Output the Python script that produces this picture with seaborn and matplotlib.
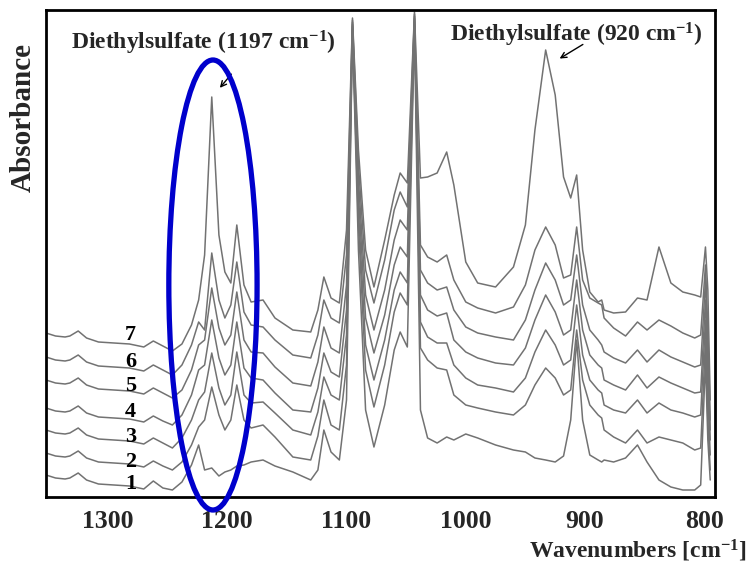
import numpy as np
import pandas as pd
import matplotlib
matplotlib.use("Agg")
import matplotlib.pyplot as plt
from matplotlib.patches import Ellipse
import seaborn as sns

# ---------------- data ----------------
wavenumber = [1352, 1344, 1336, 1332, 1325, 1318, 1308, 1295, 1282, 1270, 1262, 1254,
              1246, 1238, 1230, 1224, 1219, 1213, 1207, 1202, 1197, 1192, 1186, 1180,
              1170, 1160, 1145, 1130, 1124, 1119, 1113, 1106, 1100,
              1095, 1090, 1084, 1077, 1068, 1060, 1055, 1049, 1043,
              1038, 1032, 1024, 1016, 1010, 1000, 990, 975, 960,
              950, 942, 933, 925, 918, 912, 907, 902, 896, 889, 886,
              884, 876, 866, 856, 848, 838, 828, 818, 808, 803, 799, 797, 795]

spec_7 = [1.67, 1.64, 1.63, 1.64, 1.69, 1.62, 1.58, 1.57, 1.56, 1.53, 1.59, 1.54,
          1.49, 1.56, 1.75, 2.00, 2.45, 4.03, 2.65, 2.28, 2.17, 2.75, 2.15, 1.98,
          2.00, 1.82, 1.70, 1.68, 1.90, 2.23, 2.02, 1.97, 2.70,
          4.82, 3.50, 2.50, 2.13, 2.60, 3.05, 3.27, 3.17, 4.88,
          3.22, 3.23, 3.27, 3.48, 3.15, 2.38, 2.17, 2.13, 2.33,
          2.75, 3.70, 4.50, 4.05, 3.23, 3.02, 3.25, 2.50, 2.08, 1.98, 2.00,
          1.90, 1.87, 1.88, 2.02, 2.00, 2.53, 2.17, 2.08, 2.05, 2.03, 2.53, 2.10, 1.00]

spec_6 = [1.43, 1.40, 1.39, 1.40, 1.45, 1.38, 1.34, 1.33, 1.32, 1.29, 1.35, 1.30,
          1.25, 1.35, 1.55, 1.78, 1.70, 2.47, 2.00, 1.82, 1.95, 2.38, 1.88, 1.75,
          1.73, 1.60, 1.45, 1.42, 1.65, 2.00, 1.82, 1.77, 2.45,
          4.80, 3.35, 2.30, 1.97, 2.40, 2.90, 3.08, 2.93, 4.86,
          2.55, 2.43, 2.38, 2.45, 2.20, 1.98, 1.92, 1.87, 1.93,
          2.15, 2.50, 2.73, 2.55, 2.22, 2.25, 2.73, 2.20, 2.02, 1.97, 1.95,
          1.82, 1.72, 1.64, 1.78, 1.70, 1.80, 1.74, 1.67, 1.62, 1.65, 2.35, 1.70, 0.80]

spec_5 = [1.20, 1.17, 1.16, 1.17, 1.22, 1.15, 1.11, 1.10, 1.09, 1.06, 1.12, 1.07,
          1.02, 1.10, 1.30, 1.55, 1.60, 2.12, 1.72, 1.55, 1.65, 2.08, 1.60, 1.48,
          1.47, 1.33, 1.17, 1.14, 1.38, 1.73, 1.52, 1.47, 2.15,
          4.78, 3.20, 2.05, 1.70, 2.10, 2.60, 2.80, 2.70, 4.84,
          2.30, 2.17, 2.10, 2.13, 1.90, 1.73, 1.67, 1.63, 1.60,
          1.80, 2.10, 2.37, 2.20, 1.95, 2.00, 2.45, 1.95, 1.70, 1.60, 1.55,
          1.48, 1.42, 1.37, 1.50, 1.38, 1.50, 1.43, 1.38, 1.33, 1.35, 2.20, 1.50, 0.70]

spec_4 = [0.92, 0.89, 0.88, 0.89, 0.94, 0.87, 0.83, 0.82, 0.81, 0.78, 0.84, 0.79,
          0.75, 0.85, 1.05, 1.30, 1.35, 1.80, 1.42, 1.25, 1.35, 1.78, 1.32, 1.22,
          1.20, 1.07, 0.90, 0.88, 1.12, 1.47, 1.28, 1.23, 1.90,
          4.76, 3.05, 1.82, 1.47, 1.85, 2.35, 2.53, 2.43, 4.82,
          2.05, 1.90, 1.84, 1.87, 1.60, 1.48, 1.42, 1.37, 1.35,
          1.52, 1.80, 2.05, 1.88, 1.65, 1.70, 2.20, 1.70, 1.45, 1.35, 1.32,
          1.20, 1.15, 1.10, 1.25, 1.12, 1.23, 1.17, 1.12, 1.07, 1.08, 2.00, 1.30, 0.60]

spec_3 = [0.70, 0.67, 0.66, 0.67, 0.72, 0.65, 0.61, 0.60, 0.59, 0.56, 0.62, 0.57,
          0.52, 0.62, 0.80, 1.00, 1.08, 1.47, 1.12, 0.95, 1.05, 1.48, 1.05, 0.97,
          0.98, 0.87, 0.70, 0.65, 0.88, 1.23, 1.05, 1.00, 1.65,
          4.74, 2.90, 1.55, 1.20, 1.60, 2.10, 2.28, 2.17, 4.80,
          1.78, 1.63, 1.57, 1.57, 1.35, 1.22, 1.15, 1.12, 1.08,
          1.22, 1.48, 1.70, 1.55, 1.35, 1.40, 1.95, 1.45, 1.20, 1.10, 1.07,
          0.95, 0.90, 0.87, 1.00, 0.87, 0.97, 0.90, 0.87, 0.83, 0.85, 1.80, 1.05, 0.45]

spec_2 = [0.47, 0.44, 0.43, 0.44, 0.49, 0.42, 0.38, 0.37, 0.36, 0.33, 0.39, 0.34,
          0.30, 0.38, 0.55, 0.73, 0.80, 1.13, 0.85, 0.70, 0.80, 1.15, 0.80, 0.72,
          0.75, 0.63, 0.43, 0.40, 0.64, 1.00, 0.75, 0.70, 1.35,
          4.72, 2.75, 1.30, 0.93, 1.35, 1.88, 2.07, 1.95, 4.78,
          1.52, 1.40, 1.32, 1.30, 1.05, 0.95, 0.92, 0.88, 0.85,
          0.95, 1.15, 1.32, 1.22, 1.05, 1.10, 1.70, 1.20, 0.95, 0.85, 0.82,
          0.70, 0.63, 0.57, 0.70, 0.57, 0.63, 0.60, 0.57, 0.50, 0.52, 1.60, 0.80, 0.30]

spec_1 = [0.25, 0.22, 0.21, 0.22, 0.27, 0.20, 0.16, 0.15, 0.14, 0.11, 0.19, 0.12,
          0.10, 0.18, 0.35, 0.55, 0.30, 0.32, 0.24, 0.28, 0.30, 0.34, 0.35, 0.38,
          0.40, 0.34, 0.28, 0.20, 0.30, 0.70, 0.48, 0.40, 1.00,
          4.70, 2.50, 0.90, 0.53, 0.95, 1.50, 1.68, 1.53, 4.75,
          0.90, 0.62, 0.57, 0.63, 0.60, 0.66, 0.62, 0.55, 0.50,
          0.48, 0.42, 0.40, 0.38, 0.44, 0.80, 1.60, 0.80, 0.45, 0.40, 0.38,
          0.40, 0.38, 0.42, 0.55, 0.38, 0.20, 0.13, 0.10, 0.10, 0.15, 1.40, 0.60, 0.20]

spectra = [spec_1, spec_2, spec_3, spec_4, spec_5, spec_6, spec_7]
curve_labels = ["1", "2", "3", "4", "5", "6", "7"]
label_wavenumber = 1281
label_absorbance = [0.16, 0.38, 0.63, 0.88, 1.14, 1.38, 1.65]
x_ticks = [1300, 1200, 1100, 1000, 900, 800]

# ---------------- style ----------------
sns.set_style("white")
plt.rcParams["font.family"] = ["Liberation Serif", "DejaVu Serif"]
plt.rcParams["font.weight"] = "bold"
plt.rcParams["mathtext.default"] = "regular"

fig = plt.figure(figsize=(7.55, 5.66), dpi=100)
ax = fig.add_axes([46 / 755, 1 - 497 / 566, (715 - 46) / 755, (497 - 10) / 566])

frames = []
for lab, spec in zip(curve_labels, spectra):
    frames.append(pd.DataFrame({"wavenumber": wavenumber, "absorbance": spec, "sample": lab}))
df = pd.concat(frames, ignore_index=True)

sns.lineplot(data=df, x="wavenumber", y="absorbance", units="sample", estimator=None,
             sort=False, color="#727272", linewidth=1.1, ax=ax, legend=False)

for lab, ya in zip(curve_labels, label_absorbance):
    ax.text(label_wavenumber, ya, lab, ha="center", va="center", fontsize=16,
            fontweight="bold", color="black", zorder=5)

ax.set_xlim(1352, 791)
ax.set_ylim(0.03, 4.90)
ax.set_xticks(x_ticks)
ax.set_xticklabels([str(t) for t in x_ticks])
ax.set_yticks([])
ax.tick_params(axis="x", length=0, pad=9, labelsize=18.5)
for lbl in ax.get_xticklabels():
    lbl.set_fontweight("bold")
ax.set_xlabel("")
ax.set_ylabel("")
for sp in ax.spines.values():
    sp.set_visible(True)
    sp.set_color("black")
    sp.set_linewidth(2.0)

# ellipse highlighting the 1197/1213 band
ell = Ellipse((1212, 2.15), width=74, height=4.5, fill=False, edgecolor="#0000CC",
              linewidth=3.8, clip_on=False, zorder=6)
ax.add_patch(ell)

# annotations
ax.text(1220, 4.57, "Diethylsulfate (1197 cm$^{-1}$)", ha="center", va="center",
        fontsize=17, fontweight="bold")
ax.annotate("", xy=(1207.7, 4.10), xytext=(1195.1, 4.28),
            arrowprops=dict(arrowstyle="->", color="black", lw=1.0))
ax.text(907, 4.65, "Diethylsulfate (920 cm$^{-1}$)", ha="center", va="center",
        fontsize=17, fontweight="bold")
ax.annotate("", xy=(923.3, 4.40), xytext=(899.8, 4.57),
            arrowprops=dict(arrowstyle="->", color="black", lw=1.0))

fig.text(23 / 755, 1 - 117 / 566, "Absorbance", rotation=90, ha="center", va="center",
         fontsize=21, fontweight="bold")
fig.text(746 / 755, 1 - 551 / 566, "Wavenumbers [cm$^{-1}$]", ha="right", va="center",
         fontsize=17, fontweight="bold")

fig.savefig("out.png", dpi=100)
